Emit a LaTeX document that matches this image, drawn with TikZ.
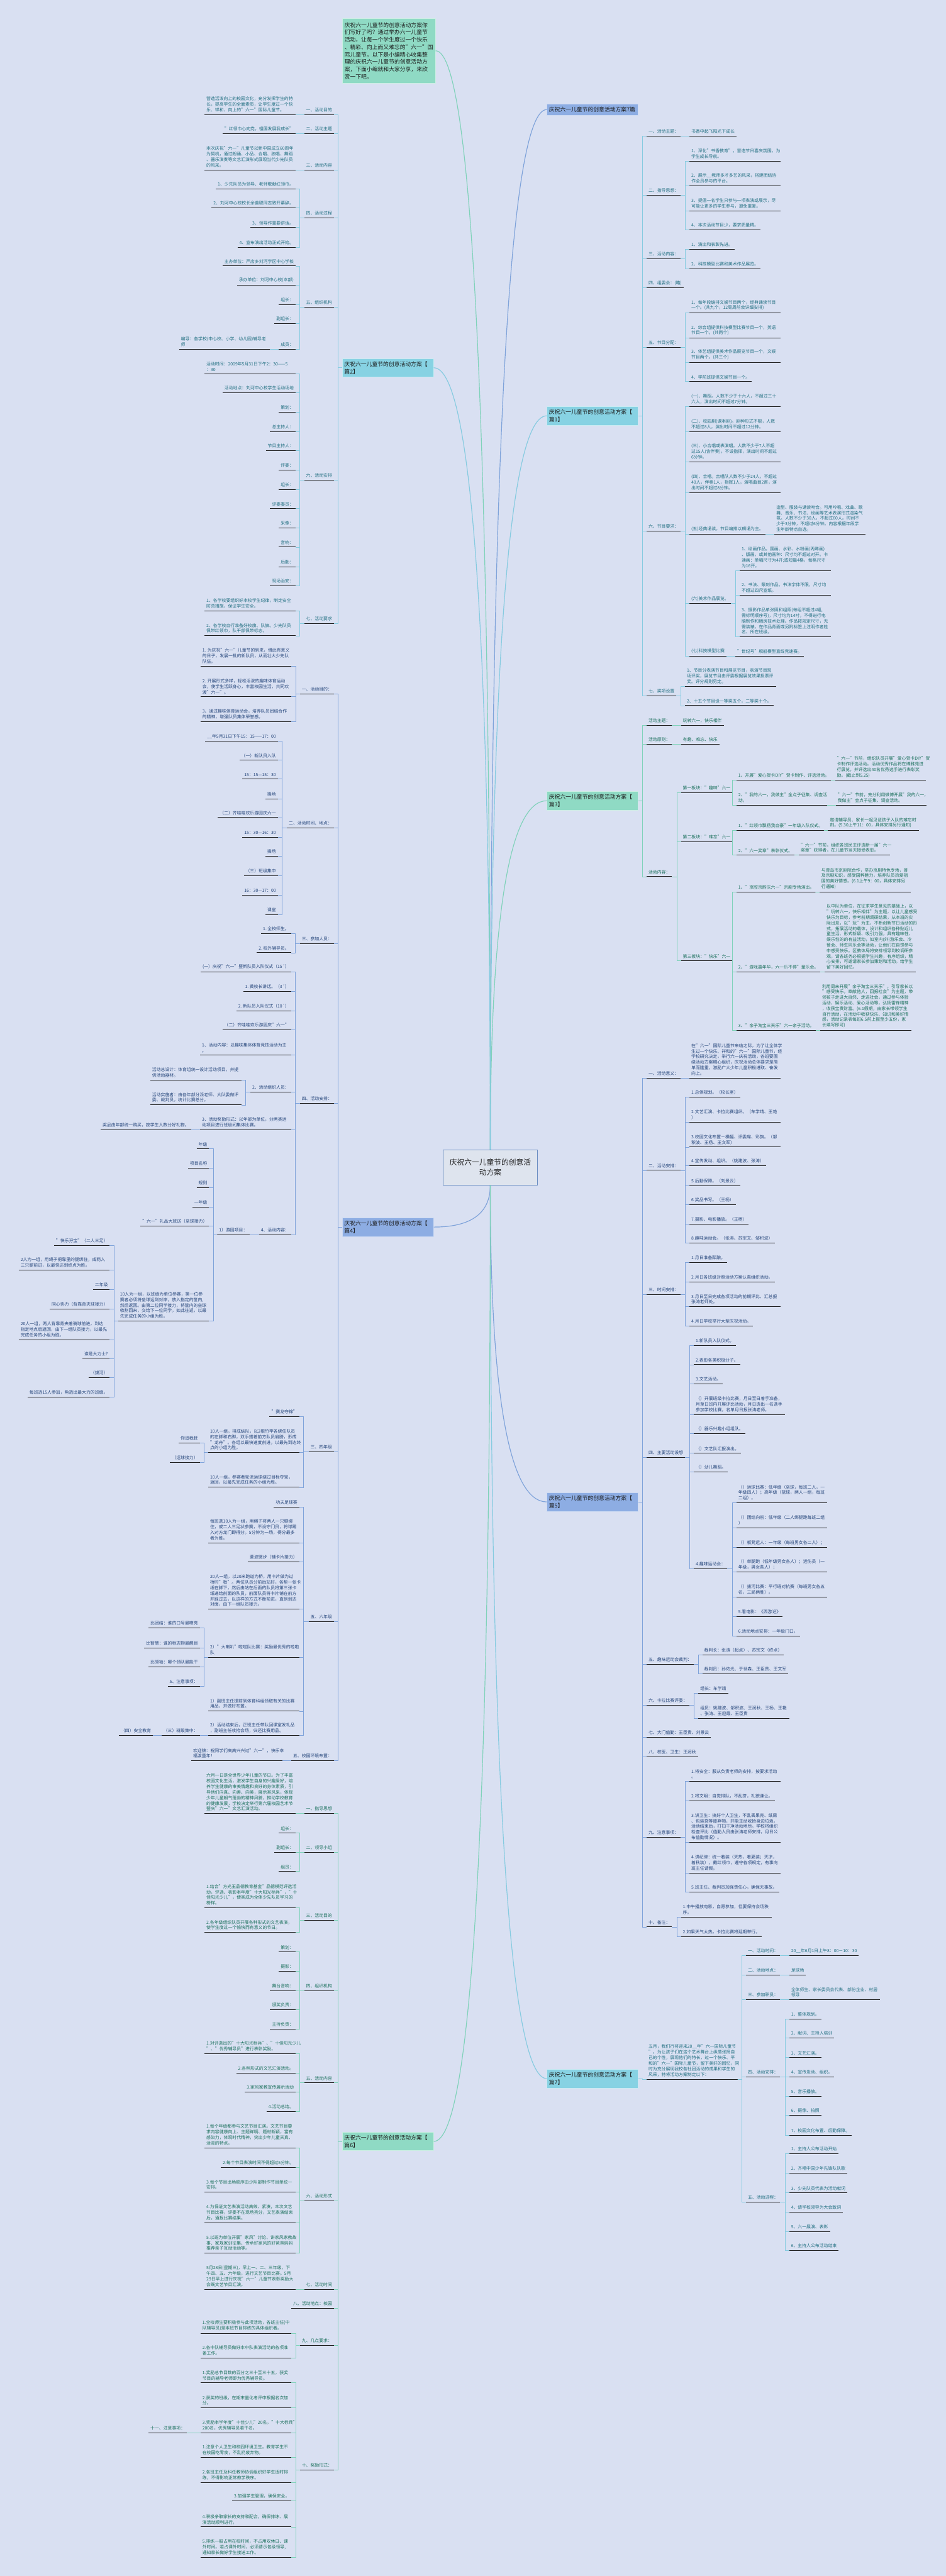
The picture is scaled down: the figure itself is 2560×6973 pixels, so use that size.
\documentclass[tikz,border=0pt]{standalone}
\usepackage{fontspec}
\setmainfont{Noto Sans CJK SC}
\usepackage{tikz}
\usetikzlibrary{calc}

\definecolor{bgc}{HTML}{D9E0F2}
\definecolor{cyanln}{HTML}{86CBE0}
\definecolor{cyanfl}{HTML}{87D2E3}
\definecolor{cyantx}{HTML}{1F6E80}
\definecolor{blueln}{HTML}{7FA3DA}
\definecolor{bluefl}{HTML}{8DADE3}
\definecolor{bluetx}{HTML}{24457A}
\definecolor{greenln}{HTML}{80D2BA}
\definecolor{greenfl}{HTML}{8FDAC4}
\definecolor{greentx}{HTML}{1A705C}
\definecolor{ulcol}{HTML}{1E1E1E}
\definecolor{nodetx}{HTML}{1C1C1C}
\definecolor{ctrfl}{HTML}{DEE4EE}
\definecolor{ctrdr}{HTML}{6C8EC2}

\newcommand{\leaffont}{\fontsize{11.7}{15}\selectfont}
\newcommand{\branchfont}{\fontsize{15}{20}\selectfont}
\newcommand{\ctrfont}{\fontsize{20}{27}\selectfont}
% 连线
\newcommand{\rroot}[2]{\draw[link] (#1.east) -| ([xshift=-11pt]#2.south west) -- (#2.south west);}
\newcommand{\lroot}[2]{\draw[link] (#1.west) -| ([xshift=11pt]#2.south east) -- (#2.south east);}
\newcommand{\rlink}[2]{\draw[link] (#1.south east) -| ([xshift=-11pt]#2.south west) -- (#2.south west);}
\newcommand{\llink}[2]{\draw[link] (#1.south west) -| ([xshift=11pt]#2.south east) -- (#2.south east);}
\newcommand{\trunk}[3]{%
  \coordinate (q) at (#2 |- #3);
  \draw[#1, line width=2pt] (#2) .. controls ($(#2)!0.667!(q)$) and ($(#3)!0.667!(q)$) .. (#3);}

\begin{document}
\begin{tikzpicture}[x=1pt, y=-1pt,
    txt/.style={text=black},
    link/.style={draw=gray, line width=1.4pt},
    uline/.style={draw=ulcol, line width=1.6pt},
    leaf/.style={inner xsep=5pt, inner ysep=7pt, align=left, font=\leaffont, txt,
      append after command={(\tikzlastnode.south west) edge[uline] (\tikzlastnode.south east)}},
    rl/.style={leaf, anchor=south west},
    ll/.style={leaf, anchor=south east},
    wide/.style={text width=236pt},
    branch/.style={anchor=north west, text width=236pt, inner xsep=5.5pt, inner ysep=8pt,
      align=left, font=\branchfont, text=nodetx, draw=white!55!#1, fill=#1, line width=1pt}]

    % 背景
    \useasboundingbox (0,0) rectangle (2560,6973);
    \fill[bgc] (0,0) rectangle (2560,6973);

    % 中心主题
    \node[draw=ctrdr, fill=ctrfl, line width=1.2pt, minimum width=256pt, minimum height=95pt,
      align=center, font=\ctrfont, text=nodetx] (ctr) at (1327,3160) {庆祝六一儿童节的创意活\\动方案};

    % 导语和标题
    \node[branch=greenfl, text width=240pt, inner xsep=6pt, inner ysep=10pt] (dsc) at (926,50)
      {庆祝六一儿童节的创意活动方案你\\们写好了吗？通过举办六一儿童节\\活动，让每一个学生度过一个快乐\\、精彩、向上而又难忘的"六一"国\\际儿童节。以下是小编精心收集整\\理的庆祝六一儿童节的创意活动方\\案，下面小编就和大家分享，来欣\\赏一下吧。};
    \node[branch=bluefl] (p0) at (1480,281) {庆祝六一儿童节的创意活动方案7篇};

    % 篇1
    \begin{scope}[link/.style={draw=cyanln, line width=1.4pt}, txt/.style={text=cyantx}]
    \node[branch=cyanfl] (p1) at (1480,1100) {庆祝六一儿童节的创意活动方案【\\篇1】};
    \node[rl] (a1) at (1750,368) {一、活动主题：};
    \node[rl] (a1x) at (1866,368) {书香中起飞阳光下成长};
    \node[rl] (a2) at (1750,528) {二、指导思想：};
    \node[rl,wide] (a21) at (1866,436) {1、深化"书香教育"，营造节日喜庆氛围，为\\学生成长导航。};
    \node[rl,wide] (a22) at (1866,503) {2、展示\_\_教师多才多艺的风采，搭建团结协\\作全员参与的平台。};
    \node[rl,wide] (a23) at (1866,571) {3、提倡一名学生只参与一项表演或展示，尽\\可能让更多的学生参与，避免重复。};
    \node[rl] (a24) at (1866,622) {4、本次活动节目少，要求质量精。};
    \node[rl] (a3) at (1750,700) {三、活动内容：};
    \node[rl] (a31) at (1866,675) {1、演出和表彰先进。};
    \node[rl] (a32) at (1866,728) {2、科技模型比赛和美术作品展览。};
    \node[rl] (a4) at (1750,779) {四、组委会：(略)};
    \node[rl] (a5) at (1750,940) {五、节目分配：};
    \node[rl,wide] (a51) at (1866,847) {1、每年段编排文娱节目两个，经典诵读节目\\一个。(共九个，12周周前会详细安排)};
    \node[rl,wide] (a52) at (1866,915) {2、综合组提供科技模型比赛节目一个，英语\\节目一个。(共两个)};
    \node[rl,wide] (a53) at (1866,981) {3、体艺组提供美术作品展览节目一个，文娱\\节目两个。(共三个)};
    \node[rl] (a54) at (1866,1033) {4、学前班提供文娱节目一个。};
    \node[rl] (a6) at (1750,1438) {六、节目要求：};
    \node[rl,wide] (a61) at (1866,1100) {(一)、舞蹈。人数不少于十六人，不超过三十\\六人，演出时间不超过7分钟。};
    \node[rl,wide] (a62) at (1866,1168) {(二)、校园剧(课本剧)。剧种形式不限，人数\\不超过8人，演出时间不超过12分钟。};
    \node[rl,wide] (a63) at (1866,1250) {(三)、小合唱或表演唱。人数不少于7人不超\\过15人(含伴奏)。不设指挥，演出时间不超过\\6分钟。};
    \node[rl,wide] (a64) at (1866,1333) {(四)、合唱。合唱队人数不少于24人，不超过\\40人，伴奏1人，指挥1人，演唱曲目2首，演\\出时间不超过8分钟。};
    \node[rl] (a65) at (1866,1446) {(五)经典诵读。节目编排以朗诵为主。};
    \node[rl,wide] (a65x) at (2096,1446) {造型、服装与诵读吻合。可用吟唱、戏曲、歌\\舞、音乐、书法、绘画等艺术表演形式渲染气\\氛。人数不少于30人，不超过60人。时间不\\少于3分钟，不超过6分钟。内容根据年段学\\生年龄特点自选。};
    \node[rl] (a66) at (1866,1634) {(六)美术作品展览。};
    \node[rl,wide] (a661) at (2002,1544) {1、绘画作品。国画、水彩、水粉画(丙烯画)\\、版画，或其他画种：尺寸均不超过对开。卡\\通画：单幅尺寸为4开;或短篇4格，每格尺寸\\为16开。};
    \node[rl,wide] (a662) at (2002,1611) {2、书法、篆刻作品。书法字体不限，尺寸均\\不超过四尺宣纸。};
    \node[rl,wide] (a663) at (2002,1724) {3、摄影作品单张照和组照(每组不超过4幅,\\需标明顺序号)，尺寸均为14吋，不得进行电\\脑制作和暗房技术处理。作品按规定尺寸，无\\需装裱。在作品背面或另附标签上注明作者姓\\名、所在班级。};
    \node[rl] (a67) at (1866,1776) {(七)科技模型比赛};
    \node[rl] (a67x) at (1990,1776) {"世纪号"舰船模型直线竞速赛。};
    \node[rl] (a7) at (1750,1883) {七、奖项设置};
    \node[rl,wide] (a71) at (1854,1858) {1、节目分表演节目和展览节目，表演节目现\\场评奖，展览节目由评委根据展览效果投票评\\奖。评分规则另定。};
    \node[rl] (a72) at (1854,1910) {2、十五个节目设一等奖五个，二等奖十个。};
    \foreach \c in {a1,a2,a3,a4,a5,a6,a7} {\rroot{p1}{\c}}
    \rlink{a1}{a1x}
    \foreach \c in {a21,a22,a23,a24} {\rlink{a2}{\c}}
    \foreach \c in {a31,a32} {\rlink{a3}{\c}}
    \foreach \c in {a51,a52,a53,a54} {\rlink{a5}{\c}}
    \foreach \c in {a61,a62,a63,a64,a65,a66,a67} {\rlink{a6}{\c}}
    \rlink{a65}{a65x}
    \foreach \c in {a661,a662,a663} {\rlink{a66}{\c}}
    \rlink{a67}{a67x}
    \foreach \c in {a71,a72} {\rlink{a7}{\c}}
    \end{scope}

    % 篇3
    \begin{scope}[link/.style={draw=greenln, line width=1.4pt}, txt/.style={text=greentx}]
    \node[branch=greenfl] (p3) at (1480,2142) {庆祝六一儿童节的创意活动方案【\\篇3】};
    \node[rl] (b1) at (1750,1963) {活动主题：};
    \node[rl] (b1x) at (1843,1963) {玩转六一，快乐相伴};
    \node[rl] (b2) at (1750,2015) {活动原则：};
    \node[rl] (b2x) at (1843,2015) {有趣、难忘、快乐};
    \node[rl] (b3) at (1750,2373) {活动内容：};
    \node[rl] (b31) at (1843,2146) {第一板块："趣味"六一};
    \node[rl] (b311) at (1993,2112) {1、开展"爱心贺卡DIY"贺卡制作、评选活动。};
    \node[rl,wide] (b311x) at (2260,2112) {"六一"节前，组织队员开展"爱心贺卡DIY"贺\\卡制作评选活动。活动优秀作品将在博雅苑进\\行展览，并评选出40名优秀选手进行表彰奖\\励。(截止到5.25)};
    \node[rl,wide] (b312) at (1993,2180) {2、"我的六一，我做主"金点子征集、调查活\\动。};
    \node[rl,wide] (b312x) at (2262,2180) {"六一"节前，充分利用微博开展"我的六一，\\我做主"金点子征集、调查活动。};
    \node[rl] (b32) at (1843,2279) {第二板块："难忘"六一};
    \node[rl] (b321) at (1993,2248) {1、"红领巾飘扬我自豪"一年级入队仪式。};
    \node[rl,wide] (b321x) at (2241,2248) {邀请辅导员、家长一起见证孩子入队的难忘时\\刻。(5.30上午11：00，具体安排另行通知)};
    \node[rl] (b322) at (1993,2315) {2、"六一奖章"表彰仪式。};
    \node[rl,wide] (b322x) at (2162,2315) {"六一"节前，组织各班民主评选新一届"六一\\奖章"获得者，在儿童节当天接受表彰。};
    \node[rl] (b33) at (1843,2601) {第三板块："快乐"六一};
    \node[rl] (b331) at (1993,2414) {1、"京腔京韵庆六一"京剧专场演出。};
    \node[rl,wide] (b331x) at (2218,2414) {与青岛市京剧院合作，举办京剧特色专场，普\\及京剧知识，感受国粹魅力，培养队员热爱祖\\国的美好情感。(6.1上午9：00，具体安排另\\行通知)};
    \node[rl] (b332) at (1993,2631) {2、"游戏嘉年华，六一乐不停"童乐会。};
    \node[rl,wide] (b332x) at (2232,2631) {以中队为单位，在征求学生意见的基础上，以\\"玩转六一，快乐相伴"为主题，以让儿童感受\\快乐为目标，参考前期调研结果，从本班的实\\际出发，以"玩"为主，不断创新节日活动的形\\式，拓展活动的载体，设计和组织各种贴近儿\\童生活、形式新颖、吸引力强，具有趣味性、\\娱乐性的的有益活动，如室内(外)游乐会、冷\\餐会、师生同乐会等活动，让他们在自觉参与\\中感受快乐。区教体局将安排领导到校调研参\\观，请各班务必根据学生兴趣，有序组织，精\\心安排，可邀请家长参加策划和活动。给学生\\留下美好回忆。};
    \node[rl] (b333) at (1993,2789) {3、"亲子淘宝三天乐"六一亲子活动。};
    \node[rl,wide] (b333x) at (2220,2789) {利用周末开展"亲子淘宝三天乐"，引导家长以\\"感受快乐，奉献他人，回报社会"为主题，带\\领孩子走进大自然、走进社会，通过参与体验\\活动、娱乐活动、爱心活动等，弘扬雷锋精神\\，收获宝贵财富。(6.1假期，由家长带领学生\\自行活动，在活动中收获快乐、知识和美好情\\感，活动记录表每班6.5前上报至少五份，家\\长填写即可)};
    \foreach \c in {b1,b2,b3} {\rroot{p3}{\c}}
    \rlink{b1}{b1x}
    \rlink{b2}{b2x}
    \foreach \c in {b31,b32,b33} {\rlink{b3}{\c}}
    \foreach \c in {b311,b312} {\rlink{b31}{\c}}
    \foreach \c in {b321,b322} {\rlink{b32}{\c}}
    \foreach \c in {b331,b332,b333} {\rlink{b33}{\c}}
    \foreach \c in {b311,b312,b321,b322,b331,b332,b333} {\rlink{\c}{\c x}}
    \end{scope}

    % 篇5
    \begin{scope}[link/.style={draw=blueln, line width=1.4pt}, txt/.style={text=bluetx}]
    \node[branch=bluefl] (p5) at (1480,4040) {庆祝六一儿童节的创意活动方案【\\篇5】};
    \node[rl] (c1) at (1750,2918) {一、活动意义：};
    \node[rl,wide] (c1x) at (1866,2918) {在"六一"国际儿童节来临之际，为了让全体学\\生过一个快乐、祥和的"六一"国际儿童节，经\\学校研究决定，举行六一庆祝活动，各班要围\\绕活动方案精心组织，庆祝活动总体要求是简\\单而隆重，激励广大少年儿童积极进取、奋发\\向上。};
    \node[rl] (c2) at (1750,3168) {二、活动安排：};
    \node[rl] (c21) at (1866,2970) {1.总体规划。（校长室）};
    \node[rl,wide] (c22) at (1866,3037) {2.文艺汇演、卡拉比赛组织。（车学靖、王艳\\）};
    \node[rl,wide] (c23) at (1866,3105) {3.校园文化布置－横幅、评委席、彩旗。（邹\\积波、王杨、王文军）};
    \node[rl] (c24) at (1866,3156) {4.宣传发动、组织。（姚建波、张涛）};
    \node[rl] (c25) at (1866,3209) {5.后勤保障。（刘景云）};
    \node[rl] (c26) at (1866,3261) {6.奖品书写。（王杨）};
    \node[rl] (c27) at (1866,3314) {7.摄影、电影播放。（王杨）};
    \node[rl] (c28) at (1866,3365) {8.趣味运动会。（张涛、苏宗文、邹积波）};
    \node[rl] (c3) at (1750,3504) {三、时间安排：};
    \node[rl] (c31) at (1866,3418) {1.月日准备酝酿。};
    \node[rl] (c32) at (1866,3470) {2.月日各班级对照活动方案认真组织活动。};
    \node[rl,wide] (c33) at (1866,3537) {3.月日至日完成各项活动的前期评比、汇总报\\张涛老师处。};
    \node[rl] (c34) at (1866,3589) {4.月日学校举行大型庆祝活动。};
    \node[rl] (c4) at (1750,3945) {四、主要活动设想};
    \node[rl] (c41) at (1878,3642) {1.新队员入队仪式。};
    \node[rl] (c42) at (1878,3694) {2.表彰各类积极分子。};
    \node[rl] (c43) at (1878,3746) {3.文艺活动。};
    \node[rl,wide] (c44) at (1878,3829) {（）开展班级卡拉比赛，月日至日着手准备，\\月至日班内开展评比活动，月日选出一名选手\\参加学校比赛，名单月日报张涛老师。};
    \node[rl] (c45) at (1878,3881) {（）器乐兴趣小组组队。};
    \node[rl] (c46) at (1878,3934) {（）文艺队汇报演出。};
    \node[rl] (c47) at (1878,3985) {（）幼儿舞蹈。};
    \node[rl] (c48) at (1878,4247) {4.趣味运动会：};
    \node[rl,wide] (c481) at (1993,4068) {（）运球比赛：低年级（垒球，每班二人，一\\年级四人）；高年级（篮球，两人一组，每班\\二组）。};
    \node[rl,wide] (c482) at (1993,4136) {（）团结向前：低年级（二人绑腿跑每班二组\\）};
    \node[rl,wide] (c483) at (1993,4189) {（）板凳运人：一年级（每班男女各二人）；};
    \node[rl,wide] (c484) at (1993,4255) {（）单腿跑（低年级男女各人）；运伤员（一\\年级，男女各人）；};
    \node[rl,wide] (c485) at (1993,4323) {（）拔河比赛：平行班对抗赛（每班男女各五\\名，三局两胜）。};
    \node[rl] (c486) at (1993,4376) {5.看电影：《西游记》};
    \node[rl] (c487) at (1993,4428) {6.活动地点安排：一年级门口。};
    \node[rl] (c5) at (1750,4505) {五、趣味运动会裁判：};
    \node[rl] (c51) at (1901,4479) {裁判长：张涛（起点）、苏宗文（终点）};
    \node[rl] (c52) at (1901,4531) {裁判员：孙佑光、于世森、王臣贵、王文军};
    \node[rl] (c6) at (1750,4616) {六、卡拉比赛评委：};
    \node[rl] (c61) at (1890,4583) {组长：车学靖};
    \node[rl,wide] (c62) at (1890,4651) {组员：姚建波、邹积波、王润秋、王杨、王艳\\、张涛、王迎霞、王臣贵};
    \node[rl] (c7) at (1750,4703) {七、大门值勤：王臣贵、刘景云};
    \node[rl] (c8) at (1750,4755) {八、校医、卫生：王润秋};
    \node[rl] (c9) at (1750,4973) {九、注意事项：};
    \node[rl,wide] (c91) at (1866,4822) {1.将安全：服从负责老师的安排，按要求活动\\。};
    \node[rl] (c92) at (1866,4875) {2.将文明：自觉排队，不乱挤，礼貌谦让。};
    \node[rl,wide] (c93) at (1866,4987) {3.讲卫生：搞好个人卫生，不乱丢果壳、纸屑\\、包装袋等废弃物，并能主动收拾身边垃圾。\\活动结束后，打扫干净活动场所。学校将组织\\检查评比（值勤人员由张涛老师安排，月日公\\布值勤情况）。};
    \node[rl,wide] (c94) at (1866,5070) {4.讲纪律：统一着装（天热，着夏装；天凉，\\着秋装），戴红领巾，遵守各项规定，有事向\\班主任请假。};
    \node[rl] (c95) at (1866,5122) {5.班主任、裁判员加强责任心，确保无事故。};
    \node[rl] (c10) at (1750,5216) {十、备注：};
    \node[rl,wide] (c101) at (1843,5189) {1.中午播放电影，自愿参加，但要保持会场秩\\序。};
    \node[rl] (c102) at (1843,5242) {2.如果天气太热，卡拉比赛将延期举行。};
    \foreach \c in {c1,c2,c3,c4,c5,c6,c7,c8,c9,c10} {\rroot{p5}{\c}}
    \rlink{c1}{c1x}
    \foreach \c in {c21,c22,c23,c24,c25,c26,c27,c28} {\rlink{c2}{\c}}
    \foreach \c in {c31,c32,c33,c34} {\rlink{c3}{\c}}
    \foreach \c in {c41,c42,c43,c44,c45,c46,c47,c48} {\rlink{c4}{\c}}
    \foreach \c in {c481,c482,c483,c484,c485,c486,c487} {\rlink{c48}{\c}}
    \foreach \c in {c51,c52} {\rlink{c5}{\c}}
    \foreach \c in {c61,c62} {\rlink{c6}{\c}}
    \foreach \c in {c91,c92,c93,c94,c95} {\rlink{c9}{\c}}
    \foreach \c in {c101,c102} {\rlink{c10}{\c}}
    \end{scope}

    % 篇7
    \begin{scope}[link/.style={draw=cyanln, line width=1.4pt}, txt/.style={text=cyantx}]
    \node[branch=cyanfl] (p7) at (1480,5601) {庆祝六一儿童节的创意活动方案【\\篇7】};
    \node[rl,wide] (d0) at (1750,5628) {五月，我们行将迎来20\_\_年"六一国际儿童节\\"。为让孩子们在这个艺术舞台上纵情张扬自\\己的个性，展现他们的特长，过一个快乐、平\\和的"六一"国际儿童节，留下美好的回忆，同\\时为充分展现我校各社团活动的成果和学生的\\风采，特将活动方案制定以下：};
    \node[rl] (d1) at (2019,5293) {一、活动时间：};
    \node[rl] (d1x) at (2136,5293) {20\_\_年6月1日上午8：00－10：30};
    \node[rl] (d2) at (2019,5346) {二、活动地点：};
    \node[rl] (d2x) at (2136,5346) {足球场};
    \node[rl] (d3) at (2019,5413) {三、参加职员：};
    \node[rl,wide] (d3x) at (2136,5413) {全体师生、家长委员会代表、部份企业、村居\\领导};
    \node[rl] (d4) at (2019,5622) {四、活动安排：};
    \node[rl] (d41) at (2136,5465) {1、整体规划。};
    \node[rl] (d42) at (2136,5517) {2、献词、主持人培训};
    \node[rl] (d43) at (2136,5570) {3、文艺汇演。};
    \node[rl] (d44) at (2136,5622) {4、宣传发动、组织。};
    \node[rl] (d45) at (2136,5674) {5、音乐播放。};
    \node[rl] (d46) at (2136,5726) {6、摄像、拍照};
    \node[rl] (d47) at (2136,5780) {7、校园文化布置、后勤保障。};
    \node[rl] (d5) at (2019,5961) {五、活动进程：};
    \node[rl] (d51) at (2136,5830) {1、主持人公布活动开始};
    \node[rl] (d52) at (2136,5883) {2、齐唱中国少年先锋队队歌};
    \node[rl] (d53) at (2136,5936) {3、少先队员代表为活动献词};
    \node[rl] (d54) at (2136,5988) {4、请学校领导为大会致词};
    \node[rl] (d55) at (2136,6040) {5、六一展演、表彰};
    \node[rl] (d56) at (2136,6092) {6、主持人公布活动结束};
    \rroot{p7}{d0}
    \foreach \c in {d1,d2,d3,d4,d5} {\rlink{d0}{\c}}
    \foreach \c in {d1,d2,d3} {\rlink{\c}{\c x}}
    \foreach \c in {d41,d42,d43,d44,d45,d46,d47} {\rlink{d4}{\c}}
    \foreach \c in {d51,d52,d53,d54,d55,d56} {\rlink{d5}{\c}}
    \end{scope}

    % 篇2
    \begin{scope}[link/.style={draw=cyanln, line width=1.4pt}, txt/.style={text=cyantx}]
    \node[branch=cyanfl] (p2) at (926,970) {庆祝六一儿童节的创意活动方案【\\篇2】};
    \node[ll] (e1) at (904,310) {一、活动目的};
    \node[ll,wide] (e1x) at (800,310) {营造活泼向上的校园文化，充分发挥学生的特\\长，提高学生的全面素质，让学生度过一个快\\乐、祥和、向上的"六一"国际儿童节。};
    \node[ll] (e2) at (904,362) {二、活动主题};
    \node[ll] (e2x) at (800,362) {"红领巾心向党，祖国发展我成长"};
    \node[ll] (e3) at (904,460) {三、活动内容};
    \node[ll,wide] (e3x) at (800,460) {本次庆祝"六一"儿童节以新中国成立60周年\\为契机，通过朗诵、小品、合唱、独唱、舞蹈\\、器乐演奏等文艺汇演形式展现当代少先队员\\的风采。};
    \node[ll] (e4) at (904,589) {四、活动过程};
    \node[ll] (e41) at (800,511) {1、少先队员为领导、老师敬献红领巾。};
    \node[ll] (e42) at (800,563) {2、刘河中心校校长余善聪同志致开幕辞。};
    \node[ll] (e43) at (800,616) {3、领导作重要讲话。};
    \node[ll] (e44) at (800,669) {4、宣布演出活动正式开始。};
    \node[ll] (e5) at (904,832) {五、组织机构};
    \node[ll] (e51) at (800,720) {主办单位：严店乡刘河学区中心学校};
    \node[ll] (e52) at (800,772) {承办单位：刘河中心校(本部)};
    \node[ll] (e53) at (800,825) {组长：};
    \node[ll] (e54) at (800,876) {副组长：};
    \node[ll] (e55) at (800,945) {成员：};
    \node[ll,wide] (e55x) at (731,945) {编导：各学校(中心校、小学、幼儿园)辅导老\\师};
    \node[ll] (e6) at (904,1299) {六、活动安排};
    \node[ll,wide] (e61) at (800,1012) {活动时间：2009年5月31日下午2：30——5\\：30};
    \node[ll] (e62) at (800,1063) {活动地点：刘河中心校学生活动场地};
    \node[ll] (e63) at (800,1116) {策划：};
    \node[ll] (e64) at (800,1168) {总主持人：};
    \node[ll] (e65) at (800,1220) {节目主持人：};
    \node[ll] (e66) at (800,1273) {评委：};
    \node[ll] (e67) at (800,1325) {组长：};
    \node[ll] (e68) at (800,1377) {评委委员：};
    \node[ll] (e69) at (800,1429) {采像：};
    \node[ll] (e6a) at (800,1481) {音响：};
    \node[ll] (e6b) at (800,1534) {后勤：};
    \node[ll] (e6c) at (800,1586) {现场治安：};
    \node[ll] (e7) at (904,1688) {七、活动要求};
    \node[ll,wide] (e71) at (800,1654) {1、各学校要组织好本校学生纪律，制定安全\\防范措施，保证学生安全。};
    \node[ll,wide] (e72) at (800,1721) {2、各学校自行准备好校旗、队旗。少先队员\\佩带红领巾，队干部佩带标志。};
    \foreach \c in {e1,e2,e3,e4,e5,e6,e7} {\lroot{p2}{\c}}
    \foreach \c in {e1,e2,e3,e55} {\llink{\c}{\c x}}
    \foreach \c in {e41,e42,e43,e44} {\llink{e4}{\c}}
    \foreach \c in {e51,e52,e53,e54,e55} {\llink{e5}{\c}}
    \foreach \c in {e61,e62,e63,e64,e65,e66,e67,e68,e69,e6a,e6b,e6c} {\llink{e6}{\c}}
    \foreach \c in {e71,e72} {\llink{e7}{\c}}
    \end{scope}

    % 篇4
    \begin{scope}[link/.style={draw=blueln, line width=1.4pt}, txt/.style={text=bluetx}]
    \node[branch=bluefl] (p4) at (926,3296) {庆祝六一儿童节的创意活动方案【\\篇4】};
    \node[ll] (f1) at (904,1878) {一、活动目的：};
    \node[ll,wide] (f11) at (789,1803) {1.~为庆祝"六一"儿童节的到来，借此有意义\\的日子，发展一批的新队员，从而壮大少先队\\队伍。};
    \node[ll,wide] (f12) at (789,1886) {2.~开展形式多样，轻松活泼的趣味体育运动\\会，使学生活跃身心，丰富校园生活，共同欢\\渡"六一"。};
    \node[ll,wide] (f13) at (789,1953) {3、通过趣味体育运动会，培养队员团结合作\\的精神，增强队员集体荣誉感。};
    \node[ll] (f2) at (904,2241) {二、活动时间、地点：};
    \node[ll] (f21) at (752,2006) {\_\_年5月31日下午15：15——17：00};
    \node[ll] (f22) at (752,2058) {（一）新队员入队};
    \node[ll] (f23) at (752,2109) {15：15—15：30};
    \node[ll] (f24) at (752,2162) {操场};
    \node[ll] (f25) at (752,2213) {（二）齐哇哇欢乐游园庆六一};
    \node[ll] (f26) at (752,2266) {15：30—16：30};
    \node[ll] (f27) at (752,2318) {操场};
    \node[ll] (f28) at (752,2371) {（三）班级集中};
    \node[ll] (f29) at (752,2423) {16：30—17：00};
    \node[ll] (f2a) at (752,2476) {课室};
    \node[ll] (f3) at (904,2554) {三、参加人员：};
    \node[ll] (f31) at (788,2527) {1.~全校师生。};
    \node[ll] (f32) at (788,2579) {2.~校外辅导员。};
    \node[ll] (f4) at (904,2987) {四、活动安排：};
    \node[ll] (f41) at (788,2631) {(一）庆祝"六一"暨新队员入队仪式（15´）};
    \node[ll] (f42) at (788,2684) {1.~黄校长讲话。（3´）};
    \node[ll] (f43) at (788,2736) {2.~新队员入队仪式（10´）};
    \node[ll] (f44) at (788,2788) {（二）齐哇哇欢乐游园庆"六一"};
    \node[ll,wide] (f45) at (788,2856) {1、活动内容：以趣味集体体育竞技活动为主\\。};
    \node[ll] (f46) at (788,2956) {2、活动组织人员：};
    \node[ll,wide] (f461) at (653,2923) {活动总设计：体育组统一设计活动项目，并提\\供活动器材。};
    \node[ll,wide] (f462) at (653,2991) {活动实施者：由各年部分派老师、大队委做评\\委、裁判员，统计比赛总分。};
    \node[ll,wide] (f47) at (788,3058) {3、活动奖励形式：以年部为单位，分两类运\\动项目进行班级间集体比赛。};
    \node[ll] (f47x) at (517,3058) {奖品由年部统一购买，按学生人数分好礼物。};
    \node[ll] (f48) at (788,3343) {4、活动内容：};
    \node[ll] (f481) at (675,3343) {1）游园项目：};
    \node[ll] (f4811) at (566,3110) {年级};
    \node[ll] (f4812) at (566,3162) {项目名称};
    \node[ll] (f4813) at (566,3215) {规则};
    \node[ll] (f4814) at (566,3267) {一年级};
    \node[ll] (f4815) at (566,3318) {"六一"礼品大放送（垒球接力）};
    \node[ll,wide] (f4816) at (566,3576) {10人为一组，以班级为单位参赛，第一位参\\赛者必须将垒球运到对岸，放入指定的筐内,\\然后返回。由第二位同学接力，将筐内的垒球\\收割回来，交给下一位同学，如此往返，以最\\先完成任务的小组为胜。};
    \node[ll] (g1) at (297,3371) {"快乐孖宝"（二人三足）};
    \node[ll,wide] (g2) at (297,3438) {2人为一组，用绳子把靠里的腿绑住，成两人\\三只腿前进，以最快达到终点为胜。};
    \node[ll] (g3) at (297,3490) {二年级};
    \node[ll] (g4) at (297,3543) {同心协力（背靠背夹球接力）};
    \node[ll,wide] (g5) at (297,3626) {20人一组，两人背靠背夹着骑球前进，到达\\指定地点后返回，由下一组队员接力，以最先\\完成任务的小组为胜。};
    \node[ll] (g6) at (297,3677) {谁是大力士?};
    \node[ll] (g7) at (297,3729) {（拔河）};
    \node[ll] (g8) at (297,3782) {每班选15人参加，角选出最大力的班级。};
    \node[ll] (f5) at (904,3930) {三、四年级};
    \node[ll] (f51) at (810,3835) {"赛龙夺锦"};
    \node[ll,wide] (f52) at (810,3932) {10人一组，排成纵队，以2根竹竿各绑住队员\\的左脚和右脚，双手搭着前方队员肩膀，形成\\"龙舟"。各组以最快速度前进，以最先到达终\\点的小组为胜。};
    \node[ll] (f521) at (541,3906) {你追我赶};
    \node[ll] (f522) at (541,3958) {（运球接力）};
    \node[ll,wide] (f53) at (810,4026) {10人一组，参赛者轮流运球绕过目标夺宝，\\返回，以最先完成任务的小组为胜。};
    \node[ll] (f6) at (904,4389) {五、六年级};
    \node[ll] (f61) at (810,4079) {功夫足球赛};
    \node[ll,wide] (f62) at (810,4176) {每班选10人为一组，用绳子将两人一只脚绑\\住，成二人三足状参赛，不设守门员，将球踢\\入对方龙门即得分。5分钟为一场，得分最多\\者为胜。};
    \node[ll] (f63) at (810,4227) {菱波微步（铺卡片接力）};
    \node[ll,wide] (f64) at (810,4356) {20人一组，以20米跑道为桥，用卡片做为过\\桥时"板"。两位队员分前后站好，各垫一张卡\\纸在脚下，然后由站在后面的队员将第三张卡\\纸递给前面的队员，前面队员将卡片铺在前方\\并踩过去，以这样的方式不断前进，直到到达\\对面，由下一组队员接力。};
    \node[ll,wide] (f65) at (810,4486) {2）"大喇叭"啦啦队比赛：奖励最优秀的啦啦\\队};
    \node[ll] (f651) at (541,4407) {比团结：谁的口号最嘹亮};
    \node[ll] (f652) at (541,4461) {比智慧：谁的标志物最醒目};
    \node[ll] (f653) at (541,4512) {比领袖：哪个领队最能干};
    \node[ll] (f654) at (541,4565) {5、注意事项：};
    \node[ll,wide] (f66) at (810,4632) {1）副班主任提前到体育科组领取有关的比赛\\用品，并做好布置。};
    \node[ll,wide] (f67) at (810,4698) {2）活动结束后，正班主任带队回课室发礼品\\，副班主任收拾会场，归还比赛用品。};
    \node[ll] (f671) at (541,4698) {（三）班级集中：};
    \node[ll] (f672) at (414,4698) {（四）安全教育};
    \node[ll] (f7) at (904,4766) {五、校园环境布置：};
    \node[ll,wide] (f7x) at (764,4766) {欢迎牌：祝同学们高高兴兴过"六一"，快乐幸\\福渡童年！};
    \foreach \c in {f1,f2,f3,f4,f5,f6,f7} {\lroot{p4}{\c}}
    \foreach \c in {f11,f12,f13} {\llink{f1}{\c}}
    \foreach \c in {f21,f22,f23,f24,f25,f26,f27,f28,f29,f2a} {\llink{f2}{\c}}
    \foreach \c in {f31,f32} {\llink{f3}{\c}}
    \foreach \c in {f41,f42,f43,f44,f45,f46,f47,f48} {\llink{f4}{\c}}
    \foreach \c in {f461,f462} {\llink{f46}{\c}}
    \llink{f47}{f47x}
    \llink{f48}{f481}
    \foreach \c in {f4811,f4812,f4813,f4814,f4815,f4816} {\llink{f481}{\c}}
    \foreach \c in {g1,g2,g3,g4,g5,g6,g7,g8} {\llink{f4816}{\c}}
    \foreach \c in {f51,f52,f53} {\llink{f5}{\c}}
    \foreach \c in {f521,f522} {\llink{f52}{\c}}
    \foreach \c in {f61,f62,f63,f64,f65,f66,f67} {\llink{f6}{\c}}
    \foreach \c in {f651,f652,f653,f654} {\llink{f65}{\c}}
    \llink{f67}{f671}
    \llink{f671}{f672}
    \llink{f7}{f7x}
    \end{scope}

    % 篇6
    \begin{scope}[link/.style={draw=greenln, line width=1.4pt}, txt/.style={text=greentx}]
    \node[branch=greenfl] (p6) at (926,5771) {庆祝六一儿童节的创意活动方案【\\篇6】};
    \node[ll] (h1) at (904,4909) {一、指导思想};
    \node[ll,wide] (h1x) at (800,4909) {六月一日是全世界少年儿童的节日。为了丰富\\校园文化生活，激发学生自身的兴趣爱好，培\\养学生健康的审美情趣和良好的身体素质，引\\导他们向真、向善、向美，展示其风采，体现\\少年儿童朝气蓬勃的精神风貌，推动学校教育\\的健康发展，学校决定举行第六届校园艺术节\\暨庆"六一"文艺汇演活动。};
    \node[ll] (h2) at (904,5014) {二、领导小组};
    \node[ll] (h21) at (800,4962) {组长：};
    \node[ll] (h22) at (800,5014) {副组长：};
    \node[ll] (h23) at (800,5066) {组员：};
    \node[ll] (h3) at (904,5198) {三、活动目的};
    \node[ll,wide] (h31) at (800,5164) {1.结合"方光玉品德教育基金"品德模范评选活\\动，评选、表彰本年度"十大阳光标兵"，"十\\佳阳光少儿"，使其成为全体少先队员学习的\\榜样。};
    \node[ll,wide] (h32) at (800,5231) {2.各年级组织队员开展各种形式的文艺表演，\\使学生度过一个愉快而有意义的节日。};
    \node[ll] (h4) at (904,5388) {四、组织机构};
    \node[ll] (h41) at (800,5284) {策划：};
    \node[ll] (h42) at (800,5336) {摄影：};
    \node[ll] (h43) at (800,5388) {舞台音响：};
    \node[ll] (h44) at (800,5440) {颁奖负责：};
    \node[ll] (h45) at (800,5493) {主持负责：};
    \node[ll] (h5) at (904,5638) {五、活动内容};
    \node[ll,wide] (h51) at (800,5559) {1.对评选出的"十大阳光标兵"、"十佳阳光少儿\\"、"优秀辅导员"进行表彰奖励。};
    \node[ll] (h52) at (800,5612) {2.各种形式的文艺汇演活动。};
    \node[ll] (h53) at (800,5663) {3.家风家教宣传展示活动};
    \node[ll] (h54) at (800,5716) {4.活动总结。};
    \node[ll] (h6) at (904,5957) {六、活动形式};
    \node[ll,wide] (h61) at (800,5814) {1.每个年级都参与文艺节目汇演。文艺节目要\\求内容健康向上、主题鲜明、题材新颖，富有\\感染力，体现时代精神，突出少年儿童天真、\\活泼的特点。};
    \node[ll] (h62) at (800,5867) {2.每个节目表演时间不得超过5分钟。};
    \node[ll,wide] (h63) at (800,5934) {3.每个节目出场顺序由少队部制作节目单统一\\安排。};
    \node[ll,wide] (h64) at (800,6017) {4.为保证文艺表演活动高效、紧凑，本次文艺\\节目比赛，评委不在现场亮分，文艺表演结束\\后，通报比赛结果。};
    \node[ll,wide] (h65) at (800,6099) {5.以班为单位开展"家风"讨论、讲家风家教故\\事、家规家训征集、传承好家风的好爸爸妈妈\\推荐亲子互动活动等。};
    \node[ll] (h7) at (904,6197) {七、活动时间};
    \node[ll,wide] (h7x) at (800,6197) {5月28日(星期三)，早上一、二、三年级，下\\午四、五、六年级，进行文艺节目比赛。5月\\29日早上进行庆祝"六一"儿童节表彰奖励大\\会既文艺节目汇演。};
    \node[ll] (h8) at (904,6248) {八、活动地点：校园};
    \node[ll] (h9) at (904,6349) {九、几点要求：};
    \node[ll,wide] (h91) at (789,6316) {1.全校师生要积极参与此项活动，各班主任(中\\队辅导员)是本班节目排练的具体组织者。};
    \node[ll,wide] (h92) at (789,6383) {2.各中队辅导员做好本中队表演活动的各项准\\备工作。};
    \node[ll] (h10) at (904,6686) {十、奖励形式：};
    \node[ll,wide] (h101) at (789,6450) {1.奖励总节目数的百分之三十至三十五，获奖\\节目的辅导老师即为优秀辅导员。};
    \node[ll,wide] (h102) at (789,6518) {2.获奖的班级，在期末量化考评中根据名次加\\分。};
    \node[ll,wide] (h103) at (789,6585) {3.奖励本学年度"十佳少儿"20名，"十大标兵"\\200名，优秀辅导员若干名。};
    \node[ll] (h103x) at (506,6585) {十一、注意事项：};
    \node[ll,wide] (h104) at (789,6652) {1.注意个人卫生和校园环境卫生。教育学生不\\在校园吃零食，不乱扔废弃物。};
    \node[ll,wide] (h105) at (789,6720) {2.各班主任及科任教师协调组织好学生适时排\\练，不得影响正常教学秩序。};
    \node[ll] (h106) at (789,6770) {3.加强学生管理，确保安全。};
    \node[ll,wide] (h107) at (789,6840) {4.积极争取家长的支持和配合，确保排练、展\\演活动顺利进行。};
    \node[ll,wide] (h108) at (789,6922) {5.排练一般占用在校时间，不占用双休日、课\\外时间。若占课外时间，必须请示包级领导,\\通知家长做好学生接送工作。};
    \foreach \c in {h1,h2,h3,h4,h5,h6,h7,h8,h9,h10} {\lroot{p6}{\c}}
    \foreach \c in {h1,h7,h103} {\llink{\c}{\c x}}
    \foreach \c in {h21,h22,h23} {\llink{h2}{\c}}
    \foreach \c in {h31,h32} {\llink{h3}{\c}}
    \foreach \c in {h41,h42,h43,h44,h45} {\llink{h4}{\c}}
    \foreach \c in {h51,h52,h53,h54} {\llink{h5}{\c}}
    \foreach \c in {h61,h62,h63,h64,h65} {\llink{h6}{\c}}
    \foreach \c in {h91,h92} {\llink{h9}{\c}}
    \foreach \c in {h101,h102,h103,h104,h105,h106,h107,h108} {\llink{h10}{\c}}
    \end{scope}

    % 主干曲线
    \trunk{blueln}{ctr.north}{p0.west}
    \trunk{cyanln}{ctr.north}{p1.west}
    \trunk{greenln}{ctr.north}{p3.west}
    \trunk{blueln}{ctr.south}{p5.west}
    \trunk{cyanln}{ctr.south}{p7.west}
    \trunk{greenln}{ctr.north}{dsc.east}
    \trunk{cyanln}{ctr.north}{p2.east}
    \trunk{blueln}{ctr.south}{p4.east}
    \trunk{greenln}{ctr.south}{p6.east}
\end{tikzpicture}
\end{document}
